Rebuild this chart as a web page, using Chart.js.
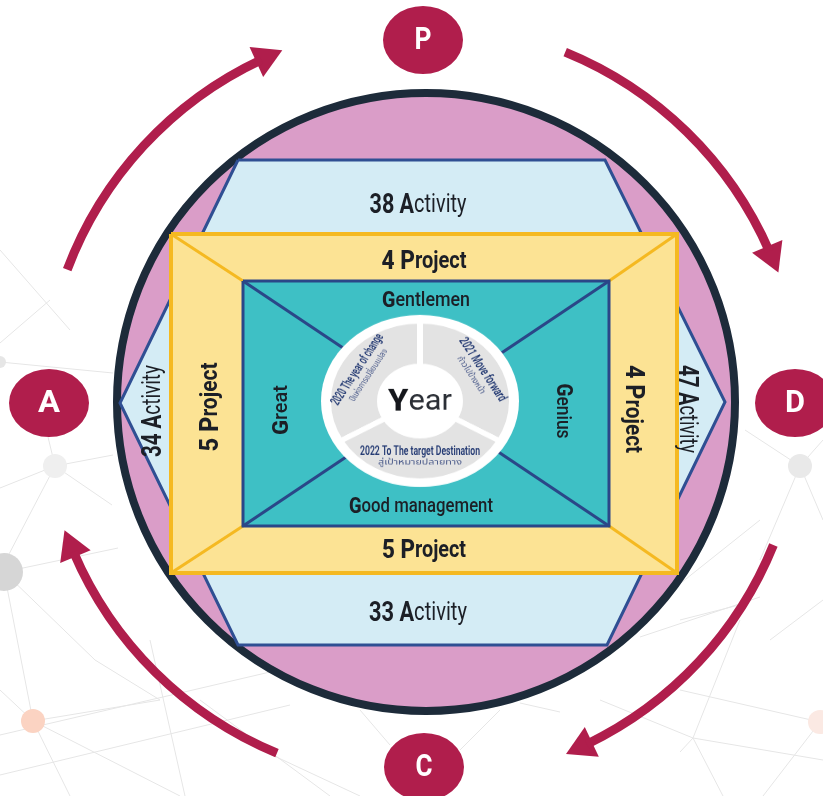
<!DOCTYPE html>
<html lang="en">
<head>
<meta charset="utf-8">
<title>PDCA plan</title>
<script src="https://cdn.jsdelivr.net/npm/chart.js@4.4.1/dist/chart.umd.min.js"></script>
<style>
  html, body { margin:0; padding:0; background:#ffffff; overflow:hidden; }
  #wrap { position:relative; width:823px; height:796px; overflow:hidden; }
  canvas { position:absolute; display:block; }
  #mainChart { left:0; top:0; }
  #arrowRing { left:-4px; top:-23px; }
  #yearChart { left:321px; top:302px; background:#ffffff; border-radius:50%; transform:scaleY(0.87); transform-origin:50% 50%; }
</style>
</head>
<body>
<div id="wrap">
  <canvas id="mainChart" width="823" height="796"></canvas>
  <canvas id="arrowRing" width="852" height="852"></canvas>
  <canvas id="yearChart" width="198" height="198"></canvas>
</div>
<script>
// ================= chart values =================
const stages         = ['P', 'D', 'C', 'A'];
const activityCounts = [38, 47, 33, 34];   // top, right, bottom, left
const projectCounts  = [4, 4, 5, 5];       // top, right, bottom, left
const coreValues     = ['Gentlemen', 'Genius', 'Good management', 'Great']; // top, right, bottom, left
const yearPlans      = ['2020 The year of change', '2021 Move forward', '2022 To The target Destination'];
const yearPlansThai  = ['ปีแห่งการเปลี่ยนแปลง', 'ก้าวไปข้างหน้า', 'สู่เป้าหมายปลายทาง'];
const centerWord     = 'Year';

// ================= layout (positions / sizes / styles) =================
const COL = {
  crimson:'#b01e4c', ring:'#1d2b3a', pink:'#da9dc8', sky:'#d4ecf5', skyLine:'#2f4f93',
  yellow:'#fce394', yellowLine:'#f5b921', teal:'#3ec0c5', tealLine:'#2a4788',
  seg:'#e3e3e3', text:'#1c1f26', yearText:'#243a73', bgLine:'#e6e6e6'
};
const L = {
  center:[426,402], circleR:309, circleLine:8,
  hexagon:[[238,160],[605,160],[725,402],[607,645],[238,645],[120,403]],
  yellow:{l:171,t:234,r:677,b:573},
  teal:{l:243,t:281,r:609,b:526},
  stagePos:[[423,40],[795,403],[424,767],[49,403]],
  stageW:[17,20,17,22],
  ring:{cx:422, cy:403, r:379, w:9},
  arcStart:[22.2,112,202.5,290.6],
  arcTip:[69.9,157.7,250.4,338.4],
  headR:19
};
// per side: [x, y, rotationDeg, targetWidth]
const sideLayout = [
  {act:[418,206,0,97],   proj:[424,262,0,85],   val:[426,301,0,88]},
  {act:[686,409,90,88],  proj:[632,409,90,88],  val:[562,411,90,55]},
  {act:[418,614,0,98],   proj:[424,551,0,84],   val:[421,507,0,144]},
  {act:[154,411,-90,92], proj:[211,407,-90,89], val:[282,410,-90,50]}
];
const bgDotPos   = [[55,466],[4,572],[33,721],[800,466],[820,722],[0,362]];
const bgDotR     = [12,19,12,12,12,6];
const bgDotColor = ['#efefef','#d6d6d6','#fbd3c2','#e9e9e9','#fbe9e3','#e6e6e6'];
const bgEdges = [
  [[0,343],[50,300]],[[0,362],[113,373]],[[55,466],[0,488]],[[55,466],[113,455]],
  [[48,437],[55,466]],[[55,466],[8,556]],[[55,466],[112,505]],[[4,572],[118,548]],
  [[4,572],[95,660]],[[4,572],[33,721]],[[33,721],[0,690]],[[33,721],[160,700]],
  [[33,721],[70,796]],[[33,721],[180,796]],[[95,660],[160,700]],[[0,735],[300,665]],
  [[0,775],[290,705]],[[150,640],[185,796]],[[200,700],[330,796]],[[240,740],[360,796]],
  [[0,250],[70,330]],
  [[823,440],[800,466]],[[800,466],[760,560]],[[800,466],[823,520]],[[760,520],[647,610]],
  [[760,597],[640,637]],[[680,620],[747,603]],[[680,690],[820,722]],[[693,738],[823,760]],
  [[693,738],[740,620]],[[693,738],[680,752]],[[693,738],[723,796]],[[820,722],[763,796]],
  [[600,700],[693,738]],[[360,710],[390,745]],[[460,750],[500,710]],[[520,703],[560,712]],
  [[800,466],[745,430]],[[823,600],[770,640]]
];

// ================= helpers =================
const pt = a => ({x:a[0], y:a[1]});
const closed = arr => arr.concat([arr[0]]).map(pt);
const rectPts = r => [[r.l,r.t],[r.r,r.t],[r.r,r.b],[r.l,r.b]];
const SANS = 'Roboto, "Open Sans", "DejaVu Sans", sans-serif';
const THAI = '"Noto Sans Thai", "Noto Sans Thai UI", "Noto Sans", "DejaVu Sans", sans-serif';

function ellipseCanvas(w, h, color) {
  const c = document.createElement('canvas'); c.width = w; c.height = h;
  const g = c.getContext('2d'); g.fillStyle = color;
  g.beginPath(); g.ellipse(w/2, h/2, w/2, h/2, 0, 0, Math.PI*2); g.fill();
  return c;
}
function drawRuns(ctx, runs, x, y, rotDeg, width, color) {
  ctx.save();
  ctx.translate(x, y);
  ctx.rotate(rotDeg * Math.PI / 180);
  let total = 0;
  runs.forEach(r => { ctx.font = r.font; r.w = ctx.measureText(r.text).width; total += r.w; });
  const sx = width ? width / total : 1;
  ctx.scale(sx, 1);
  let cx = -total / 2;
  ctx.textBaseline = 'middle'; ctx.textAlign = 'left';
  runs.forEach(r => { ctx.font = r.font; ctx.fillStyle = r.color || color; ctx.fillText(r.text, cx, 0); cx += r.w; });
  ctx.restore();
}
const polyLine = (pts, extra) => Object.assign({
  data: pts, showLine:true, pointRadius:0, borderJoinStyle:'miter', tension:0, fill:false
}, extra);

// ================= arrow geometry =================
const RAD = 180 / Math.PI;
const headAng = 1.5 * L.headR / L.ring.r * RAD;
const headOff = L.headR / L.ring.r * RAD;
const shaftEnd = L.arcTip.map(t => t - headAng + 0.8);
const headAngles = L.arcTip.map(t => t - headOff);
const heads = headAngles.map(a => ({
  x: L.ring.cx + L.ring.r * Math.sin(a / RAD),
  y: L.ring.cy - L.ring.r * Math.cos(a / RAD)
}));
const headRot = headAngles.map(a => a + 90);

// ================= main chart =================
const textPlugin = {
  id:'diagramText',
  afterDatasetsDraw(chart) {
    const ctx = chart.ctx, xs = chart.scales.x, ys = chart.scales.y;
    const px = p => [xs.getPixelForValue(p[0]), ys.getPixelForValue(p[1])];
    sideLayout.forEach((s, i) => {
      let p = px(s.act);
      drawRuns(ctx, [
        {text: activityCounts[i] + ' A', font:'700 27px ' + SANS},
        {text: 'ctivity', font:'400 25px ' + SANS}
      ], p[0], p[1], s.act[2], s.act[3], COL.text);
      p = px(s.proj);
      drawRuns(ctx, [
        {text: projectCounts[i] + ' P', font:'800 26px ' + SANS},
        {text: 'roject', font:'700 23px ' + SANS}
      ], p[0], p[1], s.proj[2], s.proj[3], COL.text);
      p = px(s.val);
      const v = coreValues[i];
      drawRuns(ctx, [
        {text: v[0], font:'800 22px ' + SANS},
        {text: v.slice(1), font:'500 20px ' + SANS}
      ], p[0], p[1], s.val[2], s.val[3], COL.text);
    });
    stages.forEach((s, i) => {
      const p = px(L.stagePos[i]);
      drawRuns(ctx, [{text:s, font:'700 32px ' + SANS}], p[0], p[1] + 1, 0, L.stageW[i], '#ffffff');
    });
  }
};

const bgLineData = [];
bgEdges.forEach(e => { bgLineData.push(pt(e[0]), pt(e[1]), {x:null, y:null}); });

new Chart(document.getElementById('mainChart'), {
  type:'scatter',
  data:{ datasets:[
    { label:'stages', data:L.stagePos.map(pt), pointStyle:ellipseCanvas(80, 68, COL.crimson), pointRadius:40, order:1 },
    { label:'arrow heads', data:heads, pointStyle:'triangle', pointRadius:L.headR, pointRotation:headRot,
      backgroundColor:COL.crimson, borderColor:COL.crimson, borderWidth:0, order:2 },
    polyLine([pt([L.teal.l,L.teal.t]), pt([L.teal.r,L.teal.b])], {borderColor:COL.tealLine, borderWidth:3, order:3}),
    polyLine([pt([L.teal.r,L.teal.t]), pt([L.teal.l,L.teal.b])], {borderColor:COL.tealLine, borderWidth:3, order:3}),
    polyLine(closed(rectPts(L.teal)), {backgroundColor:COL.teal, borderColor:COL.tealLine, borderWidth:3, fill:'shape', order:4}),
    polyLine([pt([L.yellow.l,L.yellow.t]), pt([L.teal.l,L.teal.t])], {borderColor:COL.yellowLine, borderWidth:3, order:5}),
    polyLine([pt([L.yellow.r,L.yellow.t]), pt([L.teal.r,L.teal.t])], {borderColor:COL.yellowLine, borderWidth:3, order:5}),
    polyLine([pt([L.yellow.r,L.yellow.b]), pt([L.teal.r,L.teal.b])], {borderColor:COL.yellowLine, borderWidth:3, order:5}),
    polyLine([pt([L.yellow.l,L.yellow.b]), pt([L.teal.l,L.teal.b])], {borderColor:COL.yellowLine, borderWidth:3, order:5}),
    polyLine(closed(rectPts(L.yellow)), {backgroundColor:COL.yellow, borderColor:COL.yellowLine, borderWidth:4, fill:'shape', order:6}),
    polyLine(closed(L.hexagon), {backgroundColor:COL.sky, borderColor:COL.skyLine, borderWidth:3, fill:'shape', order:7}),
    { label:'circle', data:[pt(L.center)], pointRadius:L.circleR, backgroundColor:COL.pink, borderColor:COL.ring, borderWidth:L.circleLine, order:8 },
    { label:'bg dots', data:bgDotPos.map(pt), pointRadius:bgDotR, backgroundColor:bgDotColor, borderWidth:0, order:9 },
    polyLine(bgLineData, {borderColor:COL.bgLine, borderWidth:1, spanGaps:false, order:10})
  ]},
  options:{
    responsive:false, animation:false, events:[],
    layout:{ autoPadding:false, padding:0 },
    scales:{
      x:{ type:'linear', min:0, max:823, display:false },
      y:{ type:'linear', min:0, max:796, reverse:true, display:false }
    },
    plugins:{ legend:{display:false}, tooltip:{enabled:false} },
    datasets:{ scatter:{ clip:false } }
  },
  plugins:[textPlugin]
});

// ================= arrow ring (doughnut) =================
const ringVals = [], ringCols = [];
let prev = 0;
L.arcStart.forEach((s, i) => {
  ringVals.push(s - prev); ringCols.push('rgba(0,0,0,0)');
  ringVals.push(shaftEnd[i] - s); ringCols.push(COL.crimson);
  prev = shaftEnd[i];
});
ringVals.push(360 - prev); ringCols.push('rgba(0,0,0,0)');
const outerR = L.ring.r + L.ring.w / 2, innerR = L.ring.r - L.ring.w / 2;
new Chart(document.getElementById('arrowRing'), {
  type:'doughnut',
  data:{ datasets:[{ data:ringVals, backgroundColor:ringCols, borderWidth:0 }] },
  options:{
    responsive:false, animation:false, events:[],
    radius: outerR, cutout: (innerR / outerR * 100) + '%', rotation:0,
    layout:{ padding:0 },
    plugins:{ legend:{display:false}, tooltip:{enabled:false} }
  }
});

// ================= year wheel (doughnut) =================
const yearTextPlugin = {
  id:'yearText',
  afterDatasetsDraw(chart) {
    const ctx = chart.ctx;
    const arcs = chart.getDatasetMeta(0).data;
    const widths = [92, 82, 120], thaiW = [68, 48, 84];
    arcs.forEach((a, i) => {
      const mid = (a.startAngle + a.endAngle) / 2;
      const r = 65;
      const x = a.x + Math.cos(mid) * r, y = a.y + Math.sin(mid) * r;
      let rot = mid + Math.PI / 2;
      if (Math.cos(rot) < 0) rot -= Math.PI;
      const rd = rot * RAD;
      const ux = Math.sin(rot), uy = -Math.cos(rot); // local "up"
      drawRuns(ctx, [{text:yearPlans[i], font:'600 14px ' + SANS}], x + ux*7, y + uy*7, rd, widths[i], COL.yearText);
      drawRuns(ctx, [{text:yearPlansThai[i], font:'400 9px ' + THAI}], x - ux*6.5, y - uy*6.5, rd, thaiW[i], '#4a5a8a');
    });
    const c = arcs[0];
    drawRuns(ctx, [
      {text:centerWord[0], font:'800 35px ' + SANS, color:'#15171c'},
      {text:centerWord.slice(1), font:'400 33px ' + SANS, color:'#2b2f36'}
    ], c.x, c.y + 2, 0, 64, COL.text);
  }
};
new Chart(document.getElementById('yearChart'), {
  type:'doughnut',
  data:{ labels:yearPlans, datasets:[{ data:yearPlans.map(() => 1), backgroundColor:COL.seg, borderColor:'#ffffff', borderWidth:6 }] },
  options:{
    responsive:false, animation:false, events:[],
    radius:92, cutout:(40/92*100) + '%', rotation:-120,
    layout:{ padding:0 },
    plugins:{ legend:{display:false}, tooltip:{enabled:false} }
  },
  plugins:[yearTextPlugin]
});
</script>
</body>
</html>
